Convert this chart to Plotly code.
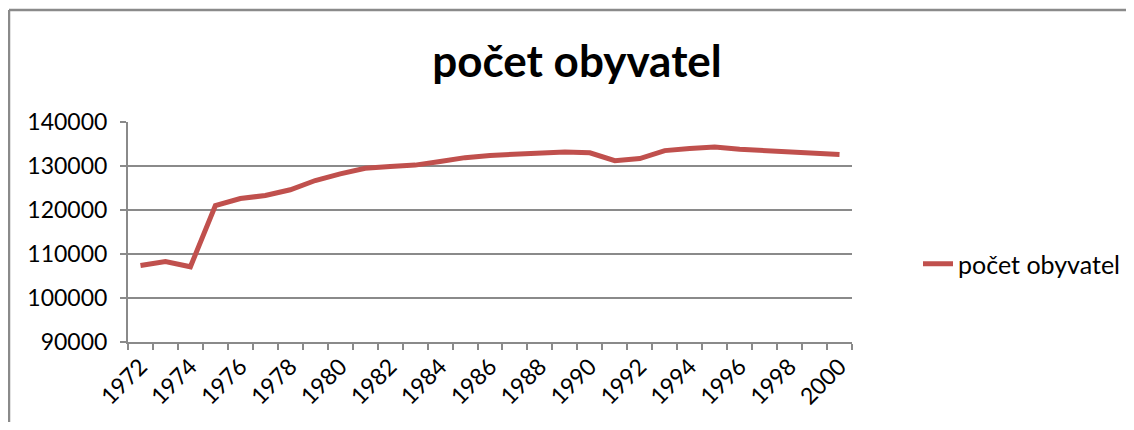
import plotly.graph_objects as go

years = list(range(1972, 2001))
population = [107400, 108300, 107100, 121000, 122600, 123300, 124600, 126700,
              128200, 129500, 129900, 130200, 131000, 131900, 132400, 132600,
              132900, 133200, 133000, 131200, 131700, 133500, 134000, 134300,
              133800, 133500, 133100, 133000, 132600]
series_name = "počet obyvatel"
title_text = "počet obyvatel"
y_ticks = [90000, 100000, 110000, 120000, 130000, 140000]
x_label_years = years[::2]

# page has an 8px body margin, so figure coords = screenshot coords - 8
OFF = 8
W, H = 1134 - OFF, 430 - 2 * OFF
L, T = 128 - OFF, 122 - OFF
R = W - (852 - OFF)
B = H - (342 - OFF)
pw, ph = W - L - R, H - T - B

grey = "#8a8a8a"
font_family = "Lato, Carlito, Calibri, sans-serif"

fig = go.Figure()
fig.add_trace(go.Scatter(
    x=years, y=population, mode="lines", name=series_name,
    line=dict(color="#C0504D", width=5),
))

boundaries = [y - 0.5 for y in years] + [years[-1] + 0.5]

fig.update_layout(
    width=W, height=H,
    margin=dict(l=L, r=R, t=T, b=B, autoexpand=False),
    paper_bgcolor="white", plot_bgcolor="white",
    font=dict(family=font_family, color="black", size=23),
    title=dict(text="<b>" + title_text + "</b>", x=(577 - OFF) / W, xanchor="center",
               y=1 - (62 - OFF) / H, yanchor="middle",
               font=dict(size=44, family=font_family, color="black")),
    showlegend=True,
    legend=dict(x=(918 - OFF - L) / pw, y=(342 - 264) / ph, xanchor="left", yanchor="middle",
                font=dict(size=25, family=font_family), bgcolor="rgba(0,0,0,0)"),
    xaxis=dict(
        range=[years[0] - 0.5, years[-1] + 0.5], automargin=False,
        tickmode="array", tickvals=x_label_years, ticktext=[str(v) for v in x_label_years],
        ticks="", tickangle=-45, showgrid=False, zeroline=False,
        showline=True, linecolor=grey, linewidth=2,
        minor=dict(tickmode="array", tickvals=boundaries, ticks="outside",
                   ticklen=6, tickcolor=grey, tickwidth=1.5, showgrid=False),
        tickfont=dict(size=23),
    ),
    yaxis=dict(
        range=[y_ticks[0], y_ticks[-1]], tickmode="array", tickvals=y_ticks, automargin=False,
        tickformat="d", ticks="outside", ticklen=6, tickcolor=grey, tickwidth=1.5,
        showgrid=True, gridcolor=grey, gridwidth=1.5, zeroline=False,
        showline=True, linecolor=grey, linewidth=2, ticklabelstandoff=8,
        tickfont=dict(size=23),
    ),
)

# outer chart-area border (left and top edges visible), kept inside the figure bounds
bx0 = (1 - L) / pw
by1 = (342 - 10) / ph
bx1 = (W - L) / pw
by0 = -B / ph
fig.add_shape(type="line", xref="paper", yref="paper", x0=bx0, x1=bx0, y0=by1, y1=by0,
              line=dict(color=grey, width=2.5))
fig.add_shape(type="line", xref="paper", yref="paper", x0=bx0, x1=bx1, y0=by1, y1=by1,
              line=dict(color=grey, width=2.5))

fig.write_html("out.html")
